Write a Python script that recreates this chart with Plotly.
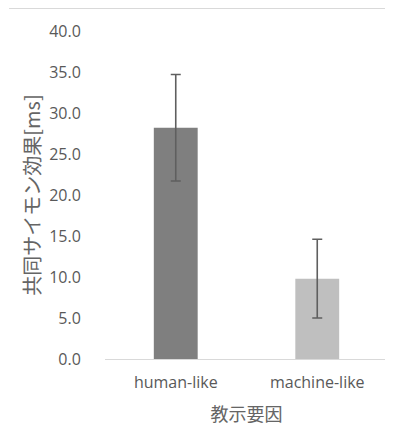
import plotly.graph_objects as go

categories = ["human-like", "machine-like"]
values = [28.2, 9.8]
errors = [6.5, 4.8]
bar_colors = ["#7f7f7f", "#bfbfbf"]
y_ticks = [0, 5, 10, 15, 20, 25, 30, 35, 40]

fig = go.Figure()
fig.add_trace(go.Bar(
    x=categories,
    y=values,
    marker=dict(color=bar_colors, line=dict(width=0)),
    width=0.31,
    error_y=dict(type="data", array=errors, visible=True,
                 color="#5f5f5f", thickness=1.6, width=5),
    showlegend=False,
))

latin = "Open Sans, Noto Sans CJK JP, sans-serif"
cjk = "Noto Sans CJK JP, sans-serif"

fig.update_layout(
    width=393, height=428,
    margin=dict(l=97, r=13, t=20, b=77),
    paper_bgcolor="white", plot_bgcolor="white",
    xaxis=dict(
        showline=True, linecolor="#d9d9d9", linewidth=1,
        showgrid=False, zeroline=False,
        tickfont=dict(family=latin, size=16, color="#595959"),
        ticks="outside", ticklen=9, tickcolor="rgba(0,0,0,0)",
        title=dict(text="教示要因", font=dict(family=cjk, size=18, color="#656565"), standoff=16),
    ),
    yaxis=dict(
        range=[0, 40], tickvals=y_ticks, tickformat=".1f",
        showgrid=False, zeroline=False, showline=False,
        tickfont=dict(family=latin, size=16, color="#595959"),
        ticks="outside", ticklen=0, ticklabelstandoff=20,
        title=dict(text="共同サイモン効果[ms]", font=dict(family=cjk, size=20, color="#656565"), standoff=3),
    ),
    shapes=[dict(type="line", xref="paper", yref="paper",
                 x0=-0.339, x1=1.018, y0=1.0695, y1=1.0695,
                 line=dict(color="#d9d9d9", width=1.5))],
)

fig.write_html("out.html")
